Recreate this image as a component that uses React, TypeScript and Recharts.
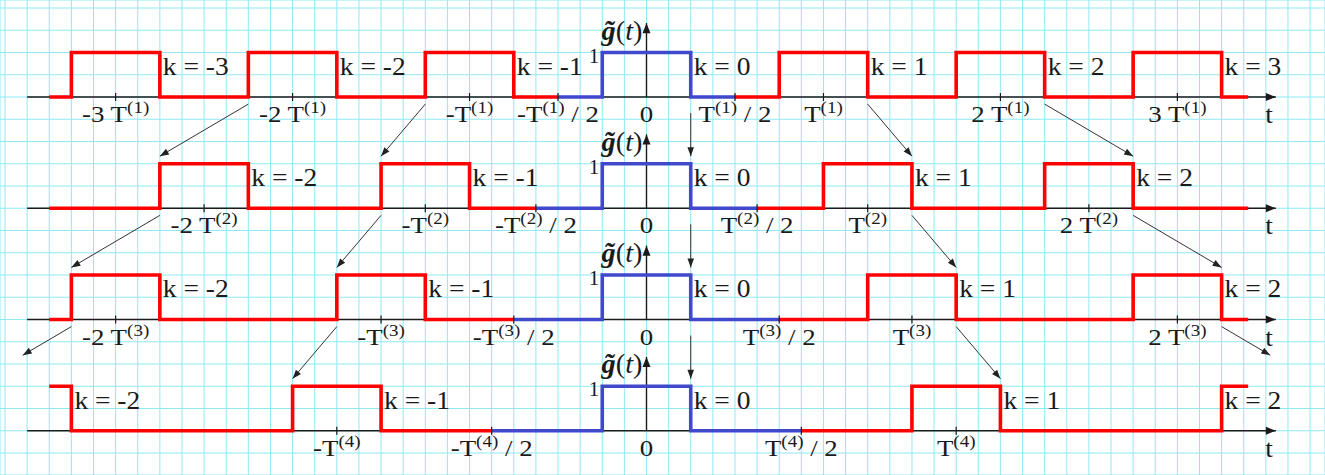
import React from 'react';
import { ComposedChart, Line, Scatter, XAxis, YAxis, CartesianGrid } from 'recharts';

// ---------- chart values ----------
const rowSuperscripts = ['(1)', '(2)', '(3)', '(4)'];
const periods = [8, 10, 12, 14]; // T(n), in grid cells
const pulseHalfWidth = 2;
const pulseHeight = 1;
const rowSpacing = 2.5;
const drawRange = [-27, 27.2];
const axisRange = [-28, 28.45];
const rowKs = [
  [-3, -2, -1, 0, 1, 2, 3],
  [-2, -1, 0, 1, 2],
  [-2, -1, 0, 1, 2],
  [-2, -1, 0, 1, 2],
];
const tickMultiples = [
  [-3, -2, -1, -0.5, 0.5, 1, 2, 3],
  [-2, -1, -0.5, 0.5, 1, 2],
  [-2, -1, -0.5, 0.5, 1, 2],
  [-1, -0.5, 0.5, 1],
];
const tickPrefixes: Record<string, string> = {
  '-3': '-3 T', '-2': '-2 T', '-1': '-T', '-0.5': '-T', '0.5': 'T', '1': 'T', '2': '2 T', '3': '3 T',
};
const tickTails: Record<string, string> = { '-0.5': ' / 2', '0.5': ' / 2' };
const arrowKs = [-2, -1, 0, 1, 2];
const shortArrowRow = 2;
const shortArrowKs = [-2, 2];
const shortArrowFraction = 0.55;
const yAxisArrowHeight = 1.66;
const tLabelX = 28.15;

// ---------- layout ----------
const W = 1325;
const H = 475;
const X0 = 646.5;
const CELL = 22.12;
const Y0 = 97;
const VUNIT = 44.5;
const xDomain = [-X0 / CELL, (W - X0) / CELL];
const yDomain = [(Y0 - H) / VUNIT, Y0 / VUNIT];
const gridU: number[] = [];
for (let u = Math.ceil(xDomain[0]); u <= Math.floor(xDomain[1]); u++) gridU.push(u);
const gridV: number[] = [];
for (let n = Math.ceil(yDomain[0] * 2); n <= Math.floor(yDomain[1] * 2); n++) gridV.push(n / 2);

const serif = "'Liberation Serif', 'Times New Roman', Times, serif";
const RED = '#ff0000';
const BLUE = '#4048cc';
const INK = '#1a1a1a';

const base = (r: number) => -rowSpacing * r;

function stepPoints(b: number, a: number, e: number, centers: number[]) {
  const hw = pulseHalfWidth;
  const level = (x: number) => (centers.some((c) => x > c - hw && x < c + hw) ? b + pulseHeight : b);
  const edges = centers
    .flatMap((c) => [c - hw, c + hw])
    .filter((v) => v > a && v < e)
    .sort((p, q) => p - q);
  const pts = [{ x: a, y: level(a + 1e-6) }];
  for (const ed of edges) {
    pts.push({ x: ed, y: level(ed - 1e-6) });
    pts.push({ x: ed, y: level(ed + 1e-6) });
  }
  pts.push({ x: e, y: level(e - 1e-6) });
  return pts;
}

const edgeOf = (r: number, k: number) =>
  k < 0 ? k * periods[r] - pulseHalfWidth : k * periods[r] + pulseHalfWidth;

// series
const redSeries: { x: number; y: number }[][] = [];
const blueSeries: { x: number; y: number }[][] = [];
const axisSeries: { x: number; y: number }[][] = [];
const arrowSeries: { x: number; y: number }[][] = [];
const labels: any[] = [];
const tickMarks: any[] = [];

periods.forEach((T, r) => {
  const b = base(r);
  const centers = rowKs[r].filter((k) => k !== 0).map((k) => k * T);
  redSeries.push(stepPoints(b, drawRange[0], -T / 2, centers));
  redSeries.push(stepPoints(b, T / 2, drawRange[1], centers));
  blueSeries.push(stepPoints(b, -T / 2, T / 2, [0]));
  axisSeries.push([{ x: axisRange[0], y: b }, { x: axisRange[1], y: b }]);
  axisSeries.push([{ x: 0, y: b }, { x: 0, y: b + yAxisArrowHeight }]);

  rowKs[r].forEach((k) => {
    let ex = k * T + pulseHalfWidth;
    if (ex > drawRange[1]) ex = k * T - pulseHalfWidth;
    labels.push({ x: ex, y: b + pulseHeight / 2, kind: 'k', text: `k = ${k}` });
  });
  tickMultiples[r].forEach((m) => {
    const key = String(m);
    labels.push({ x: m * T, y: b, kind: 'tick', pre: tickPrefixes[key], sup: rowSuperscripts[r], tail: tickTails[key] || '' });
    tickMarks.push({ x: m * T, y: b });
  });
  labels.push({ x: 0, y: b, kind: 'zero', text: '0' });
  labels.push({ x: tLabelX, y: b, kind: 't', text: 't' });
  labels.push({ x: 0, y: b + pulseHeight, kind: 'g' });
  labels.push({ x: -pulseHalfWidth, y: b + pulseHeight, kind: 'one', text: '1' });

  if (r < periods.length - 1) {
    arrowKs.forEach((k) => {
      const sx = edgeOf(r, k);
      const sy = b - (k === 0 ? 0.36 : 0.16);
      let exx = edgeOf(r + 1, k);
      let eyy = base(r + 1) + pulseHeight + 0.17;
      if (r === shortArrowRow && shortArrowKs.includes(k)) {
        exx = sx + shortArrowFraction * (exx - sx);
        eyy = sy + shortArrowFraction * (eyy - sy);
      }
      arrowSeries.push([{ x: sx, y: sy }, { x: exx, y: eyy }]);
    });
  }
});

const makeArrowDot = (len: number, half: number, color: string) => (props: any) => {
  const { cx, cy, index, points } = props;
  if (!points || index !== points.length - 1 || cx == null) return <g key={`d${index}`} />;
  const p = points[index - 1];
  const ang = Math.atan2(cy - p.y, cx - p.x);
  const bx = cx - len * Math.cos(ang);
  const by = cy - len * Math.sin(ang);
  const nx = -Math.sin(ang) * half;
  const ny = Math.cos(ang) * half;
  return (
    <polygon
      key={`d${index}`}
      points={`${cx},${cy} ${bx + nx},${by + ny} ${bx - nx},${by - ny}`}
      fill={color}
      stroke="none"
    />
  );
};

const axisArrowDot = makeArrowDot(10, 4, INK);
const thinArrowDot = makeArrowDot(9, 3.3, '#222');

function LabelShape(props: any) {
  const { cx, cy, payload: p } = props;
  if (cx == null || cy == null || !p) return <g />;
  const common = { fontFamily: serif, fill: INK };
  switch (p.kind) {
    case 'k':
      return (
        <text transform={`translate(${cx + 3},${cy}) scale(1.1,1)`} fontSize={25} {...common}>
          {p.text}
        </text>
      );
    case 'tick':
      return (
        <text transform={`translate(${cx},${cy + 25}) scale(1.12,1)`} textAnchor="middle" fontSize={24} {...common}>
          {p.pre}
          <tspan fontSize={17} dy={-9}>{p.sup}</tspan>
          {p.tail ? <tspan dy={9}>{p.tail}</tspan> : null}
        </text>
      );
    case 'zero':
      return (
        <text transform={`translate(${cx},${cy + 25}) scale(1.12,1)`} textAnchor="middle" fontSize={24} {...common}>
          {p.text}
        </text>
      );
    case 't':
      return (
        <text transform={`translate(${cx},${cy + 26}) scale(1.1,1)`} textAnchor="middle" fontSize={25} {...common}>
          {p.text}
        </text>
      );
    case 'g':
      return (
        <text transform={`translate(${cx - 4},${cy - 13}) scale(1.05,1)`} textAnchor="end" fontSize={27} {...common}>
          <tspan fontWeight="bold" fontStyle="italic">{'g\u0303'}</tspan>
          <tspan>(</tspan>
          <tspan fontStyle="italic">t</tspan>
          <tspan>)</tspan>
        </text>
      );
    case 'one':
      return (
        <text transform={`translate(${cx - 3},${cy + 10})`} textAnchor="end" fontSize={21} {...common}>
          {p.text}
        </text>
      );
    default:
      return <g />;
  }
}

function TickShape(props: any) {
  const { cx, cy } = props;
  if (cx == null || cy == null) return <g />;
  return <line x1={cx} y1={cy - 4} x2={cx} y2={cy + 4} stroke={INK} strokeWidth={1.2} />;
}

export default function App() {
  return (
    <div style={{ position: 'absolute', left: 0, top: 0, width: W, height: H, background: '#ffffff' }}>
      <ComposedChart width={W} height={H} margin={{ top: 0, right: 0, bottom: 0, left: 0 }}>
        <XAxis
          type="number"
          dataKey="x"
          domain={xDomain}
          allowDataOverflow
          hide
          ticks={gridU}
          interval={0}
        />
        <YAxis
          type="number"
          dataKey="y"
          domain={yDomain}
          allowDataOverflow
          hide
          ticks={gridV}
          interval={0}
        />
        <CartesianGrid stroke="#8fe9f5" strokeWidth={1} />
        {axisSeries.map((d, i) => (
          <Line
            key={`ax${i}`}
            data={d}
            dataKey="y"
            type="linear"
            stroke={INK}
            strokeWidth={1.4}
            dot={axisArrowDot}
            activeDot={false}
            isAnimationActive={false}
            legendType="none"
          />
        ))}
        <Scatter data={tickMarks} dataKey="y" shape={TickShape} isAnimationActive={false} legendType="none" />
        {redSeries.map((d, i) => (
          <Line
            key={`red${i}`}
            data={d}
            dataKey="y"
            type="linear"
            stroke={RED}
            strokeWidth={3.6}
            strokeLinejoin="miter"
            dot={false}
            activeDot={false}
            isAnimationActive={false}
            legendType="none"
          />
        ))}
        {blueSeries.map((d, i) => (
          <Line
            key={`blue${i}`}
            data={d}
            dataKey="y"
            type="linear"
            stroke={BLUE}
            strokeWidth={3.6}
            strokeLinejoin="miter"
            dot={false}
            activeDot={false}
            isAnimationActive={false}
            legendType="none"
          />
        ))}
        {arrowSeries.map((d, i) => (
          <Line
            key={`arr${i}`}
            data={d}
            dataKey="y"
            type="linear"
            stroke="#333"
            strokeWidth={1}
            dot={thinArrowDot}
            activeDot={false}
            isAnimationActive={false}
            legendType="none"
          />
        ))}
        <Scatter data={labels} dataKey="y" shape={LabelShape} isAnimationActive={false} legendType="none" />
      </ComposedChart>
    </div>
  );
}
